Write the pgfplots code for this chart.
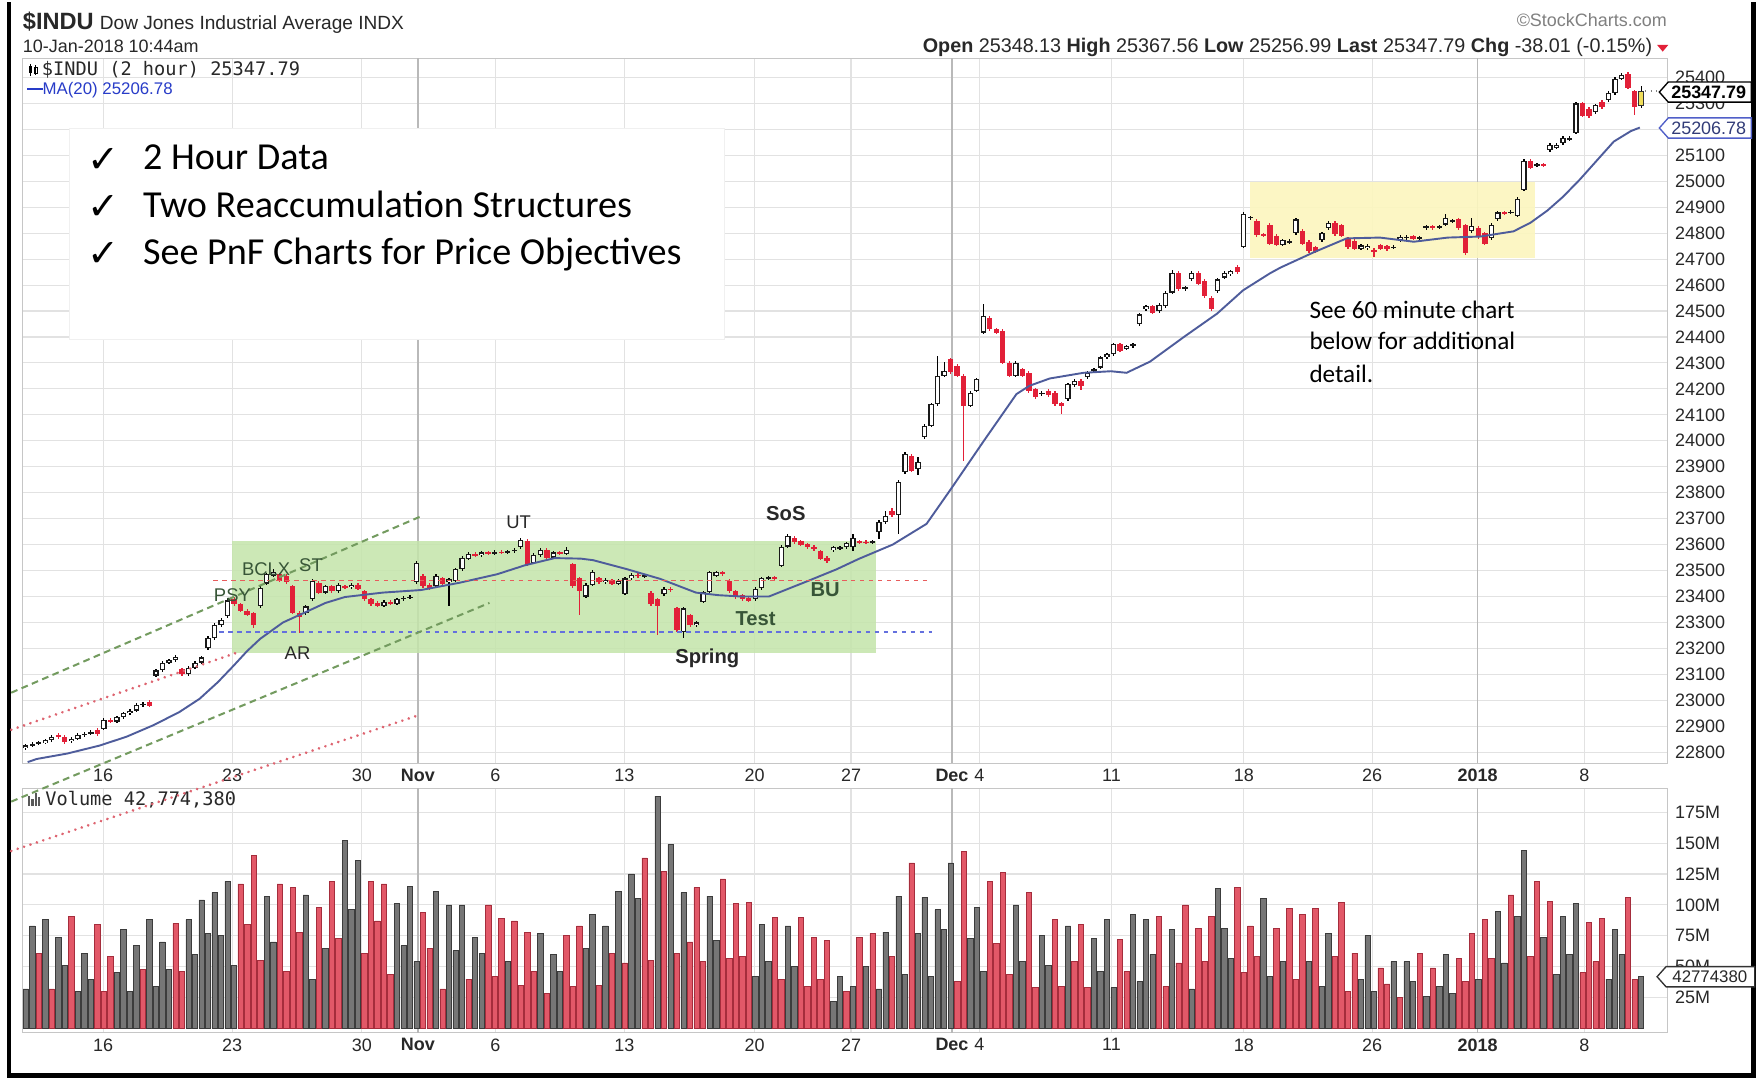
\documentclass[border=0pt]{standalone}
\usepackage{pgfplots}
\pgfplotsset{compat=1.18}
\usepackage{pgfplotstable}
\usepackage{fontspec}
\setmainfont{Liberation Sans}
\newfontfamily\carlito{Carlito}
\newfontfamily\djmono{DejaVu Sans Mono}
\newfontfamily\djsans{DejaVu Sans}
\definecolor{candred}{RGB}{226,32,56}
\definecolor{volred}{RGB}{226,88,104}
\definecolor{volredd}{RGB}{165,45,60}
\definecolor{volgray}{RGB}{118,118,118}
\definecolor{volgrayd}{RGB}{60,60,60}
\definecolor{maline}{RGB}{78,92,155}
\definecolor{boxgreen}{RGB}{196,229,170}
\definecolor{boxyellow}{RGB}{252,246,190}
\definecolor{trgreen}{RGB}{115,155,95}
\definecolor{trpink}{RGB}{222,100,112}
\definecolor{hred}{RGB}{232,92,92}
\definecolor{hblue}{RGB}{100,112,222}
\definecolor{gridc}{RGB}{226,226,226}
\definecolor{txt}{RGB}{40,40,40}
\definecolor{anngreen}{RGB}{55,85,55}
\definecolor{lastyel}{RGB}{240,222,90}
\definecolor{malegend}{RGB}{40,60,200}
\definecolor{tagblue}{RGB}{80,95,200}
\definecolor{tagbluetxt}{RGB}{50,60,120}
\pgfplotstableread{
i o h l c v k
0 22815 22832 22808 22826 32 0
1 22826 22838 22820 22832 83 0
2 22832 22844 22826 22838 61 1
3 22836 22852 22830 22846 88 0
4 22846 22866 22840 22860 32 1
5 22868 22874 22852 22858 74 0
6 22860 22866 22832 22840 51 0
7 22842 22858 22836 22852 91 1
8 22852 22874 22846 22868 30 0
9 22866 22878 22860 22872 61 0
10 22872 22884 22866 22876 40 0
11 22884 22892 22862 22870 84 1
12 22890 22931 22884 22925 30 1
13 22925 22932 22912 22918 58 1
14 22918 22941 22912 22935 45 0
15 22935 22956 22929 22950 80 0
16 22950 22966 22944 22960 30 0
17 22960 22988 22954 22982 67 0
18 22982 22992 22976 22986 48 1
19 22994 23000 22974 22980 88 0
20 23095 23121 23089 23115 34 0
21 23115 23151 23109 23145 70 0
22 23145 23161 23139 23155 48 0
23 23155 23176 23149 23168 85 1
24 23120 23126 23094 23100 46 1
25 23100 23131 23094 23125 88 0
26 23125 23151 23119 23145 60 0
27 23145 23171 23139 23165 104 0
28 23200 23246 23194 23240 77 0
29 23240 23296 23234 23290 110 0
30 23290 23316 23284 23310 75 0
31 23325 23395 23319 23385 119 0
32 23390 23398 23364 23370 51 0
33 23370 23376 23339 23345 117 1
34 23345 23351 23324 23330 84 1
35 23335 23341 23280 23290 140 1
36 23362 23440 23356 23434 55 1
37 23450 23492 23444 23486 107 0
38 23480 23505 23474 23495 70 0
39 23486 23492 23454 23460 117 1
40 23480 23486 23449 23455 46 1
41 23440 23446 23331 23337 114 1
42 23337 23343 23259 23320 78 1
43 23335 23368 23329 23362 108 0
44 23390 23466 23384 23460 40 0
45 23453 23459 23409 23415 98 1
46 23415 23446 23409 23440 65 0
47 23440 23446 23414 23420 119 1
48 23420 23451 23414 23445 73 1
49 23440 23446 23429 23435 152 0
50 23435 23451 23429 23445 96 0
51 23445 23451 23424 23430 136 0
52 23420 23426 23384 23390 61 1
53 23390 23396 23364 23370 119 1
54 23375 23381 23359 23365 87 1
55 23365 23386 23359 23380 117 1
56 23380 23386 23366 23372 44 1
57 23372 23396 23366 23390 101 0
58 23390 23401 23384 23395 67 0
59 23395 23406 23389 23400 115 0
60 23455 23536 23449 23530 54 0
61 23480 23486 23434 23440 94 1
62 23445 23451 23424 23430 65 1
63 23440 23486 23434 23480 111 0
64 23470 23476 23444 23450 32 1
65 23455 23472 23362 23466 100 0
66 23460 23511 23454 23505 63 0
67 23505 23556 23499 23550 100 0
68 23545 23571 23539 23565 40 1
69 23565 23571 23552 23558 74 0
70 23560 23576 23554 23570 61 0
71 23570 23576 23559 23565 100 1
72 23565 23578 23559 23572 42 1
73 23572 23578 23562 23568 89 1
74 23568 23581 23562 23575 54 0
75 23575 23586 23569 23580 87 1
76 23590 23625 23584 23618 35 1
77 23615 23621 23519 23525 78 1
78 23530 23566 23524 23560 46 1
79 23560 23586 23554 23580 77 0
80 23580 23586 23544 23550 28 1
81 23550 23576 23544 23570 60 0
82 23570 23576 23559 23565 46 0
83 23565 23590 23559 23580 75 1
84 23525 23531 23434 23440 34 1
85 23470 23476 23330 23420 83 1
86 23400 23451 23394 23445 65 0
87 23445 23502 23439 23496 92 0
88 23470 23476 23449 23455 35 1
89 23455 23471 23449 23465 83 0
90 23462 23468 23444 23450 61 1
91 23450 23466 23444 23460 111 0
92 23410 23476 23404 23470 53 1
93 23470 23490 23464 23484 125 0
94 23484 23490 23472 23478 105 0
95 23478 23488 23472 23482 138 1
96 23414 23420 23364 23370 55 1
97 23390 23396 23252 23363 188 0
98 23408 23436 23402 23430 127 1
99 23430 23436 23419 23425 149 0
100 23354 23360 23264 23270 61 1
101 23262 23360 23240 23354 110 0
102 23328 23334 23284 23290 70 1
103 23290 23306 23284 23300 114 1
104 23380 23423 23374 23417 54 1
105 23417 23500 23411 23494 107 0
106 23480 23500 23474 23494 71 0
107 23494 23500 23479 23485 121 1
108 23460 23466 23414 23420 57 1
109 23420 23426 23391 23397 101 1
110 23405 23411 23384 23390 58 1
111 23395 23401 23377 23383 102 1
112 23390 23436 23384 23430 42 0
113 23432 23477 23426 23471 84 0
114 23470 23480 23464 23474 54 0
115 23474 23480 23462 23468 90 1
116 23518 23598 23512 23592 40 1
117 23592 23641 23586 23635 83 0
118 23627 23633 23604 23610 50 0
119 23612 23618 23594 23600 90 1
120 23602 23608 23584 23590 34 1
121 23592 23598 23577 23583 74 1
122 23575 23581 23539 23545 40 1
123 23550 23556 23531 23537 71 1
124 23578 23596 23572 23590 22 0
125 23585 23596 23579 23590 42 0
126 23590 23611 23584 23605 30 1
127 23590 23640 23575 23625 34 0
128 23612 23618 23602 23608 74 1
129 23610 23616 23602 23608 50 0
130 23608 23618 23602 23612 77 1
131 23648 23693 23622 23687 32 0
132 23687 23730 23681 23712 78 0
133 23730 23740 23707 23713 58 1
134 23713 23849 23641 23843 107 0
135 23878 23955 23872 23949 44 0
136 23943 23949 23879 23885 134 1
137 23891 23936 23870 23920 77 0
138 24013 24064 24007 24058 106 0
139 24058 24147 24052 24141 42 0
140 24141 24327 24135 24250 96 0
141 24250 24305 24244 24270 80 0
142 24314 24320 24259 24265 134 0
143 24290 24296 24244 24250 38 1
144 24250 24256 23923 24135 143 1
145 24135 24192 24129 24186 73 0
146 24193 24243 24187 24237 98 0
147 24417 24526 24411 24481 46 0
148 24475 24481 24424 24430 119 1
149 24430 24436 24411 24417 69 1
150 24423 24429 24294 24300 126 1
151 24300 24306 24244 24250 44 1
152 24250 24306 24244 24300 100 0
153 24276 24282 24244 24250 54 0
154 24263 24269 24184 24190 110 1
155 24199 24205 24161 24167 33 1
156 24180 24191 24174 24185 75 0
157 24192 24198 24169 24175 51 0
158 24186 24192 24134 24140 88 1
159 24145 24151 24103 24135 34 1
160 24160 24224 24154 24218 83 0
161 24215 24237 24209 24231 54 1
162 24231 24237 24195 24212 84 1
163 24245 24269 24239 24263 33 1
164 24268 24282 24262 24276 73 0
165 24282 24327 24276 24321 46 0
166 24321 24340 24315 24334 88 0
167 24334 24378 24328 24372 33 0
168 24372 24378 24341 24347 72 1
169 24355 24371 24349 24365 46 1
170 24365 24378 24359 24372 92 0
171 24449 24493 24443 24487 38 0
172 24507 24525 24501 24519 88 0
173 24519 24525 24488 24494 60 0
174 24500 24531 24494 24525 91 1
175 24519 24577 24513 24571 34 1
176 24571 24660 24565 24648 80 0
177 24648 24654 24578 24584 53 1
178 24584 24598 24578 24592 100 1
179 24622 24654 24616 24648 32 0
180 24648 24654 24599 24605 81 1
181 24616 24622 24552 24558 54 1
182 24551 24557 24501 24507 91 1
183 24577 24628 24571 24622 113 0
184 24629 24654 24623 24648 81 0
185 24641 24660 24635 24654 57 0
186 24670 24676 24644 24650 114 1
187 24747 24880 24741 24873 45 1
188 24860 24868 24850 24862 83 1
189 24847 24853 24787 24793 58 1
190 24795 24801 24787 24793 105 0
191 24833 24839 24754 24760 42 0
192 24790 24796 24749 24755 81 1
193 24755 24779 24749 24773 54 0
194 24765 24776 24759 24770 97 1
195 24800 24859 24794 24853 40 1
196 24810 24816 24754 24760 92 1
197 24767 24773 24724 24730 54 0
198 24745 24751 24722 24728 97 1
199 24773 24806 24767 24800 34 0
200 24820 24846 24814 24840 77 0
201 24840 24846 24789 24795 58 1
202 24830 24836 24784 24790 102 1
203 24780 24786 24739 24745 30 1
204 24770 24776 24734 24740 61 1
205 24740 24759 24734 24753 40 0
206 24742 24758 24736 24752 75 0
207 24735 24741 24710 24728 30 0
208 24753 24759 24734 24740 49 1
209 24750 24756 24732 24738 36 1
210 24745 24754 24739 24748 54 0
211 24773 24793 24767 24787 25 1
212 24780 24793 24774 24787 54 0
213 24788 24794 24772 24778 38 0
214 24780 24791 24774 24785 61 1
215 24820 24833 24814 24827 26 0
216 24826 24832 24814 24820 49 1
217 24822 24833 24816 24827 34 0
218 24833 24875 24827 24860 60 0
219 24845 24856 24839 24850 28 0
220 24853 24859 24814 24820 57 1
221 24830 24836 24715 24725 38 1
222 24807 24860 24801 24827 77 1
223 24820 24826 24779 24785 40 0
224 24800 24806 24754 24760 88 1
225 24780 24839 24774 24833 57 1
226 24853 24886 24847 24880 95 0
227 24880 24886 24869 24875 53 0
228 24878 24888 24872 24882 108 1
229 24867 24939 24861 24933 91 0
230 24967 25086 24961 25080 144 0
231 25080 25086 25047 25053 58 1
232 25060 25072 25054 25066 119 1
233 25066 25072 25054 25060 74 0
234 25120 25146 25114 25140 103 1
235 25130 25146 25124 25140 44 0
236 25147 25173 25141 25167 91 0
237 25160 25174 25154 25168 60 0
238 25187 25306 25181 25300 101 0
239 25300 25306 25247 25253 45 1
240 25280 25286 25244 25250 86 1
241 25267 25299 25261 25293 54 1
242 25307 25313 25279 25285 89 1
243 25313 25346 25307 25340 40 0
244 25340 25401 25334 25395 80 0
245 25395 25418 25389 25410 60 0
246 25415 25421 25354 25360 106 1
247 25347 25353 25257 25287 40 1
248 25290 25368 25284 25348 42 0
}\bars
\pgfplotsset{
  chartbase/.style={
    scale only axis, width=732.5pt, xmin=-0.5, xmax=252,
    clip mode=individual,
    axis line style={gray!45},
    xtick={11.9,31.7,51.6,60.2,72.1,91.9,111.9,126.7,142.2,146.4,166.7,187,206.7,222.9,239.3},
    xticklabels={16,23,30,\textbf{Nov},6,13,20,27,\textbf{Dec},4,11,18,26,\textbf{2018},8},
    extra x ticks={60.2,142.2,222.9}, extra x tick labels={},
    extra x tick style={grid style={gray!55, line width=0.6pt}},
    yticklabel pos=right,
    scaled y ticks=false,
    /pgf/number format/assume math mode=true,
    major tick length=0pt, tick style={draw=none},
    grid=major, grid style={gridc, line width=0.5pt},
    ticklabel style={font=\fontsize{8}{9}\selectfont, text=txt},
    xticklabel style={yshift=1pt},
  }
}
\begin{document}
\begin{tikzpicture}
\fill[white] (0pt,0pt) rectangle (782.5pt,-481pt);
% ---------------- price panel
\begin{axis}[chartbase,
  at={(10pt,-25pt)}, anchor=north west, height=314pt,
  ymin=22756.8, ymax=25473.5,
  ytick={22800,22900,...,25400},
  yticklabel={\pgfmathprintnumber[fixed,precision=0,1000 sep={}]{\tick}},
]
\fill[boxgreen, fill opacity=0.85] (31.7,23181) rectangle (130.5,23613);
\fill[boxyellow, fill opacity=0.9] (187.9,24704) rectangle (231.7,24998);
% wicks
\addplot[draw=none, mark=none, error bars/.cd, y dir=both, y explicit, error mark=none,
  error bar style={draw=candred, line width=0.55pt, solid}]
  table[x=i, y expr={\thisrow{c}<\thisrow{o} ? 0.5*(\thisrow{h}+\thisrow{l}) : nan},
        y error expr={0.5*(\thisrow{h}-\thisrow{l})}] {\bars};
\addplot[draw=none, mark=none, error bars/.cd, y dir=both, y explicit, error mark=none,
  error bar style={draw=black, line width=0.55pt, solid}]
  table[x=i, y expr={\thisrow{c}<\thisrow{o} ? nan : 0.5*(\thisrow{h}+\thisrow{l})},
        y error expr={0.5*(\thisrow{h}-\thisrow{l})}] {\bars};
% red bodies
\addplot[draw=none, mark=none, error bars/.cd, y dir=both, y explicit, error mark=none,
  error bar style={draw=candred, line width=2.4pt, solid}]
  table[x=i, y expr={\thisrow{c}<\thisrow{o} ? 0.5*(\thisrow{o}+\thisrow{c}) : nan},
        y error expr={max(0.5*(\thisrow{o}-\thisrow{c}),2)}] {\bars};
% hollow bodies
\addplot[draw=none, mark=none, error bars/.cd, y dir=both, y explicit, error mark=none,
  error bar style={draw=black!90, line width=2.4pt, solid}]
  table[x=i, y expr={\thisrow{c}<\thisrow{o} ? nan : (\thisrow{i}>247 ? nan : 0.5*(\thisrow{o}+\thisrow{c}))},
        y error expr={max(0.5*(\thisrow{c}-\thisrow{o}),2)}] {\bars};
\addplot[draw=none, mark=none, error bars/.cd, y dir=both, y explicit, error mark=none,
  error bar style={draw=white, line width=1.3pt, solid}]
  table[x=i, y expr={\thisrow{c}<\thisrow{o} ? nan : (\thisrow{i}>247 ? nan : 0.5*(\thisrow{o}+\thisrow{c}))},
        y error expr={max(0.5*(\thisrow{c}-\thisrow{o})-4.6,0)}] {\bars};
% current bar
\addplot[draw=none, mark=none, error bars/.cd, y dir=both, y explicit, error mark=none,
  error bar style={draw=black!80, line width=2.6pt, solid}]
  table[x=i, y expr={\thisrow{i}>247 ? 0.5*(\thisrow{o}+\thisrow{c}) : nan},
        y error expr={0.5*(\thisrow{c}-\thisrow{o})}] {\bars};
\addplot[draw=none, mark=none, error bars/.cd, y dir=both, y explicit, error mark=none,
  error bar style={draw=lastyel, line width=1.5pt, solid}]
  table[x=i, y expr={\thisrow{i}>247 ? 0.5*(\thisrow{o}+\thisrow{c}) : nan},
        y error expr={0.5*(\thisrow{c}-\thisrow{o})-4.6}] {\bars};
% MA(20)
\addplot[maline, line width=0.85pt, mark=none] coordinates {
(0.3,22762) (1.7,22774) (6.4,22795) (11.4,22826) (15.5,22860) (19.6,22904) (23.6,22955)
(26.7,23006) (29.5,23070) (31.9,23133) (34,23190) (36,23237) (39.5,23300) (43,23340)
(46,23375) (49,23398) (54.8,23415) (60.7,23425) (66.6,23453) (72.4,23486) (76.6,23520)
(81.2,23548) (85.2,23546) (87.1,23540) (92.2,23506) (97.4,23468) (102.9,23415) (106.4,23405)
(109.8,23400) (114.1,23400) (120.3,23462) (124.5,23505) (127.9,23545) (133.1,23600)
(138.3,23680) (142.2,23820) (147.1,24000) (152.1,24180) (154.1,24212) (157.2,24240)
(162.4,24262) (166.6,24268) (169,24262) (172.6,24305) (177.8,24400) (182.9,24490)
(186.9,24580) (191,24645) (192.6,24667) (197.8,24727) (202.8,24780) (207.9,24783)
(213.1,24767) (218.3,24783) (223.3,24787) (228.4,24807) (231,24840) (233.6,24887)
(236,24940) (238.6,25007) (241.2,25080) (243.8,25153) (246.4,25193) (247.8,25207)};
% support / resistance
\draw[hred, line width=0.8pt, dash pattern=on 2pt off 2pt] (28.8,23462) -- (138.3,23462);
\draw[hblue, line width=0.8pt, dash pattern=on 2pt off 2pt] (29.7,23263) -- (139.1,23263);
\draw[gray, line width=0.5pt, dotted] (248.6,25347.79) -- (252,25347.79);
\end{axis}
% ---------------- volume panel
\begin{axis}[chartbase,
  at={(10pt,-350pt)}, anchor=north west, height=109pt,
  ymin=-3.6, ymax=194.5,
  ytick={25,50,...,175},
  yticklabel={\pgfmathprintnumber{\tick}M},
]
\addplot[ybar, bar width=0.82, bar shift=0pt, fill=volgray, draw=volgrayd, line width=0.3pt]
  table[x=i, y expr={\thisrow{k}>0.5 ? nan : \thisrow{v}}] {\bars};
\addplot[ybar, bar width=0.82, bar shift=0pt, fill=volred, draw=volredd, line width=0.3pt]
  table[x=i, y expr={\thisrow{k}>0.5 ? \thisrow{v} : nan}] {\bars};
\end{axis}
% ---------------- annotations (display pixel coordinates)
\begin{scope}[x=0.5pt, y=-0.5pt]
% frame
\draw[black, line width=2pt] (8,0) -- (8,956) -- (1562,956) -- (1562,0);
% header
\node[anchor=base west, inner sep=0pt, text=txt] at (20,24)
  {{\bfseries\fontsize{10.5}{12}\selectfont \$INDU} {\fontsize{8.5}{10}\selectfont Dow Jones Industrial Average INDX}};
\node[anchor=base west, inner sep=0pt, text=txt, font=\fontsize{8}{9}\selectfont] at (20,45) {10-Jan-2018 10:44am};
\node[anchor=base east, inner sep=0pt, text=gray, font=\fontsize{8}{9}\selectfont] at (1485,22) {\copyright StockCharts.com};
\node[anchor=base east, inner sep=0pt, text=txt, font=\fontsize{8.8}{10}\selectfont] at (1472,45)
  {\textbf{Open} 25348.13 \textbf{High} 25367.56 \textbf{Low} 25256.99 \textbf{Last} 25347.79 \textbf{Chg} -38.01 (-0.15\%)};
\fill[candred] (1476,38) -- (1486,38) -- (1481,44) -- cycle;
% legend
\draw[black, line width=0.4pt] (27,55) -- (27,66);
\fill[black] (25.5,57) rectangle (28.5,63);
\draw[black, line width=0.4pt] (32,56) -- (32,65);
\draw[black, line width=0.4pt] (30.5,58) rectangle (33.5,63);
\node[anchor=west, inner sep=0pt, text=txt, font=\djmono\fontsize{8.3}{9}\selectfont] at (37,60) {\$INDU (2 hour) 25347.79};
\node[anchor=west, inner sep=0pt, text=malegend, font=\fontsize{7.5}{9}\selectfont] at (24,78) {\rule[0.25em]{0.9em}{1pt}MA(20) 25206.78};
\fill[gray!70!black] (25,707) rectangle (27,716);
\fill[gray!70!black] (28,710) rectangle (30,716);
\fill[gray!70!black] (31,704) rectangle (33,716);
\fill[gray!70!black] (34,708) rectangle (36,716);
\node[anchor=west, inner sep=0pt, text=txt, font=\djmono\fontsize{8.3}{9}\selectfont] at (40,710) {Volume 42,774,380};
% value tags
\draw[black, fill=white, line width=0.6pt] (1478,80) -- (1486,71) -- (1560,71) -- (1560,89) -- (1486,89) -- cycle;
\node[inner sep=0pt, font=\bfseries\fontsize{8}{9}\selectfont] at (1522,80) {25347.79};
\draw[tagblue, fill=white, line width=0.6pt] (1478,112) -- (1486,103) -- (1560,103) -- (1560,121) -- (1486,121) -- cycle;
\node[inner sep=0pt, text=tagbluetxt, font=\fontsize{8}{9}\selectfont] at (1522,112) {25206.78};
\draw[black!80, fill=white, line width=0.6pt] (1476,868) -- (1484,859) -- (1563,859) -- (1563,877) -- (1484,877) -- cycle;
\node[inner sep=0pt, text=txt, font=\fontsize{7.5}{9}\selectfont] at (1523,868) {42774380};
% text box
\fill[white] (62,112) rectangle (645,300);
\draw[gray!12] (62,112) rectangle (645,300);
\foreach \yy/\tt in {143/2 Hour Data, 185/Two Reaccumulation Structures, 227/See PnF Charts for Price Objectives}{
  \node[inner sep=0pt, font=\djsans\fontsize{17}{18}\selectfont] at (92,\yy-2) {✓};
  \node[anchor=west, inner sep=0pt, font=\carlito\fontsize{17}{19}\selectfont, text height=1.5ex, text depth=0.3ex] at (127,\yy) {\tt};
}
\foreach \yy/\tt in {275/See 60 minute chart, 303/below for additional, 332/detail.}{
  \node[anchor=west, inner sep=0pt, font=\carlito\fontsize{11.2}{13}\selectfont, text height=1.5ex, text depth=0.3ex] at (1166,\yy) {\tt};
}
% trend channel lines
\draw[trgreen, line width=0.9pt, dash pattern=on 3pt off 2pt] (10,615) -- (377,457);
\draw[trgreen, line width=0.9pt, dash pattern=on 3pt off 2pt] (10,712) -- (436,535);
\draw[trpink, line width=1.3pt, line cap=round, dash pattern=on 0.01pt off 3pt] (10,648) -- (215,578);
\draw[trpink, line width=1.3pt, line cap=round, dash pattern=on 0.01pt off 3pt] (10,756) -- (373,635);
% wyckoff labels
\node[text=txt, font=\fontsize{8.2}{9}\selectfont] at (462,463) {UT};
\node[text=anngreen, font=\fontsize{8.2}{9}\selectfont] at (237,505) {BCLX};
\node[text=anngreen, font=\fontsize{8.2}{9}\selectfont] at (277,501) {ST};
\node[text=anngreen, font=\fontsize{8.2}{9}\selectfont] at (207,528) {PSY};
\node[text=txt, font=\fontsize{8.2}{9}\selectfont] at (265,580) {AR};
\node[text=txt, font=\bfseries\fontsize{9}{10}\selectfont] at (700,455) {SoS};
\node[text=anngreen, font=\bfseries\fontsize{9}{10}\selectfont] at (735,523) {BU};
\node[text=anngreen, font=\bfseries\fontsize{9}{10}\selectfont] at (673,549) {Test};
\node[text=txt, font=\bfseries\fontsize{9}{10}\selectfont] at (630,584) {Spring};
\end{scope}
\end{tikzpicture}
\end{document}
